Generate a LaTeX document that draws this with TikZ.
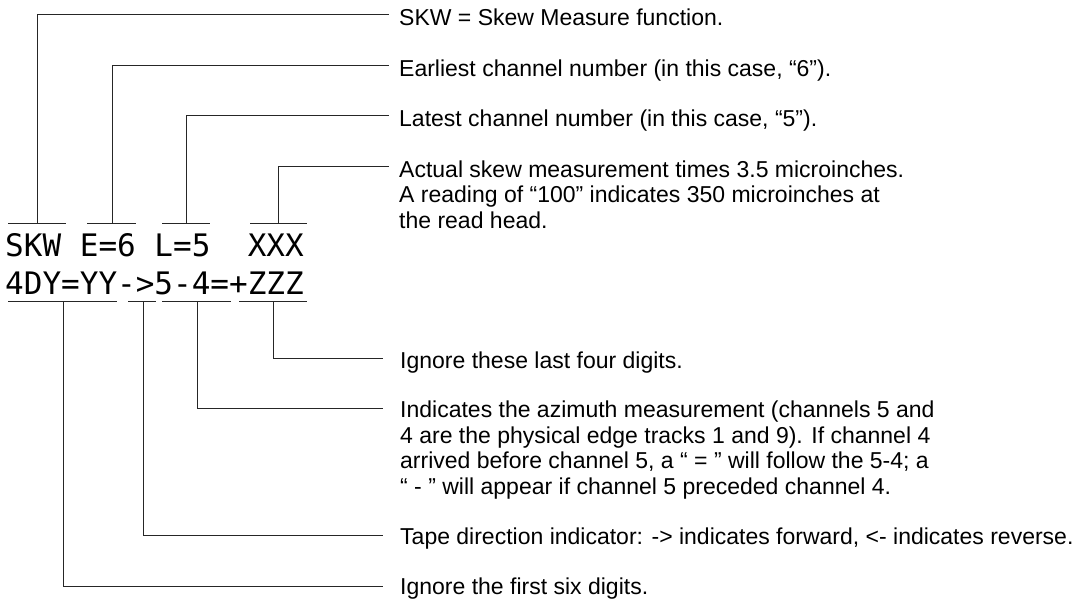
\documentclass[tikz,border=0pt]{standalone}
\usepackage{fontspec}
\setmainfont{Liberation Sans}
\newfontfamily\codefont{DejaVu Sans Mono}
\begin{document}
\begin{tikzpicture}[x=1pt,y=-1pt,
  lead/.style={draw=black!85,line width=1pt},
  code/.style={font=\codefont\fontsize{31}{31}\selectfont,inner sep=0pt,anchor=base west},
  note/.style={font=\fontsize{23}{25.5}\selectfont,inner sep=0pt,anchor=base west,align=left}]
\useasboundingbox (0,0) rectangle (1083,599);

% the two lines of the skew display
\node[code] (code1) at (5,256) {SKW~E=6~L=5~~XXX};
\node[code] (code2) at (5,294) {4DY=YY->5-4=+ZZZ};

% bars above line one (left end, right end, stem)
\coordinate (t1l) at (8,223);   \coordinate (t1r) at (66,223);  \coordinate (t1) at (37,223);
\coordinate (t2l) at (87,223);  \coordinate (t2r) at (136,223); \coordinate (t2) at (112,223);
\coordinate (t3l) at (162,223); \coordinate (t3r) at (210,223); \coordinate (t3) at (186,223);
\coordinate (t4l) at (250,223); \coordinate (t4r) at (307,223); \coordinate (t4) at (278,223);
% bars below line two
\coordinate (b1l) at (8,301);   \coordinate (b1r) at (117,301); \coordinate (b1) at (63,301);
\coordinate (b2l) at (128,301); \coordinate (b2r) at (156,301); \coordinate (b2) at (143,301);
\coordinate (b3l) at (162,301); \coordinate (b3r) at (231,301); \coordinate (b3) at (197,301);
\coordinate (b4l) at (239,301); \coordinate (b4r) at (307,301); \coordinate (b4) at (273,301);

\foreach \n in {t1,t2,t3,t4,b1,b2,b3,b4} \draw[lead] (\n l) -- (\n r);

% explanations (a multi-line node sits on the baseline of its last line)
\node[note] (n1) at (399,26) {SKW = Skew Measure function.};
\node[note] (n2) at (399,77) {Earliest channel number (in this case, “6”).};
\node[note] (n3) at (399,127) {Latest channel number (in this case, “5”).};
\node[note] (n4) at (399,228) {Actual skew measurement times 3.5 microinches.\\A reading of “100” indicates 350 microinches at\\the read head.};
\node[note] (n5) at (400,368) {Ignore these last four digits.};
\node[note] (n6) at (400,494) {Indicates the azimuth measurement (channels 5 and\\4 are the physical edge tracks 1 and 9). If channel 4\\arrived before channel 5, a “ = ” will follow the 5-4; a\\“ - ” will appear if channel 5 preceded channel 4.};
\node[note] (n7) at (400,544) {Tape direction indicator: -> indicates forward, <- indicates reverse.};
\node[note] (n8) at (400,594) {Ignore the first six digits.};

% leader ends just before each explanation
\coordinate (e1) at (389,15);
\coordinate (e2) at (389,66);
\coordinate (e3) at (389,116);
\coordinate (e4) at (389,166);
\coordinate (e5) at (383,358);
\coordinate (e6) at (383,408);
\coordinate (e7) at (383,535);
\coordinate (e8) at (383,586);

% leaders
\draw[lead] (t1) |- (e1);
\draw[lead] (t2) |- (e2);
\draw[lead] (t3) |- (e3);
\draw[lead] (t4) |- (e4);
\draw[lead] (b4) |- (e5);
\draw[lead] (b3) |- (e6);
\draw[lead] (b2) |- (e7);
\draw[lead] (b1) |- (e8);
\end{tikzpicture}
\end{document}
